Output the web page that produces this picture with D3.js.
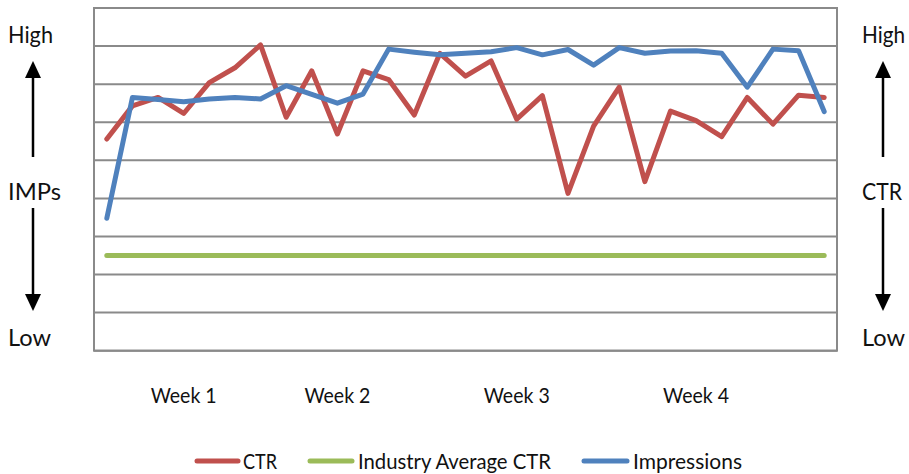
<!DOCTYPE html>
<html><head><meta charset="utf-8">
<script src="https://cdn.jsdelivr.net/npm/d3@7"></script>
<style>
html,body{margin:0;padding:0;background:#fff;}
svg{display:block;}
text{font-family:Lato,"Open Sans",sans-serif;fill:#111;}
</style></head>
<body><svg id="chart" width="909" height="474"></svg>
<script>
// ---- data ----
const categories = ["","","","Week 1","","","","","","Week 2","","","","","","","Week 3","","","","","","","Week 4","","","","",""];
const ctr = [5.56,6.43,6.65,6.23,7.04,7.43,8.03,6.13,7.35,5.69,7.35,7.12,6.19,7.81,7.21,7.61,6.08,6.70,4.13,5.90,6.92,4.44,6.29,6.04,5.62,6.65,5.95,6.71,6.65];
const industryAvg = [2.5,2.5,2.5,2.5,2.5,2.5,2.5,2.5,2.5,2.5,2.5,2.5,2.5,2.5,2.5,2.5,2.5,2.5,2.5,2.5,2.5,2.5,2.5,2.5,2.5,2.5,2.5,2.5,2.5];
const impressions = [3.48,6.65,6.60,6.54,6.61,6.65,6.61,6.96,6.73,6.50,6.74,7.92,7.84,7.77,7.81,7.85,7.96,7.77,7.91,7.50,7.96,7.81,7.87,7.88,7.81,6.92,7.92,7.88,6.28];
const yTicks = [0,1,2,3,4,5,6,7,8,9];
const seriesNames = ["CTR","Industry Average CTR","Impressions"];
const seriesColors = ["#C0504D","#9BBB59","#4F81BD"];

const svg = d3.select("#chart");
const pL = 94, pR = 837, pT = 8, pB = 350.7;

const x = d3.scaleBand().domain(d3.range(categories.length)).range([pL, pR]);
const y = d3.scaleLinear().domain([0, 9]).range([pB, pT]);
const cx = i => x(i) + x.bandwidth() / 2;

// gridlines
svg.append("g").selectAll("line").data(yTicks).join("line")
  .attr("x1", pL).attr("x2", pR)
  .attr("y1", d => y(d)).attr("y2", d => y(d))
  .attr("stroke", "#8a8a8a").attr("stroke-width", 2);
// plot border
svg.append("rect").attr("x", pL).attr("y", pT)
  .attr("width", pR - pL).attr("height", pB - pT)
  .attr("fill", "none").attr("stroke", "#8a8a8a").attr("stroke-width", 2);

// x axis labels
const xAxis = d3.axisBottom(x).tickSize(0).tickPadding(0).tickFormat(i => categories[i]);
const gx = svg.append("g").attr("transform", `translate(0,${pB})`).call(xAxis);
gx.select(".domain").remove();
gx.selectAll("text").attr("font-family", "Lato").attr("font-size", 22).attr("fill", "#111")
  .attr("dy", null).attr("y", 52)
  .filter(function(){ return this.textContent.length > 0; })
  .attr("textLength", 66).attr("lengthAdjust", "spacingAndGlyphs");

// lines
const line = d3.line().x((d, i) => cx(i)).y(d => y(d));
const allSeries = [ctr, industryAvg, impressions];
[1, 0, 2].forEach(k => {
  svg.append("path").datum(allSeries[k]).attr("d", line)
    .attr("fill", "none").attr("stroke", seriesColors[k]).attr("stroke-width", 5)
    .attr("stroke-linejoin", "round").attr("stroke-linecap", "round");
});

// side labels with arrows
function sideLabels(xText, xArrow, midLabel, midW, highW) {
  const g = svg.append("g");
  const t = (txt, yy, w) => g.append("text").attr("x", xText).attr("y", yy)
    .attr("font-size", 23).attr("textLength", w).attr("lengthAdjust", "spacingAndGlyphs").text(txt);
  t("High", 43, highW); t(midLabel, 200, midW); t("Low", 346, 43);
  g.append("line").attr("x1", xArrow).attr("x2", xArrow).attr("y1", 76).attr("y2", 157)
    .attr("stroke", "#000").attr("stroke-width", 2.5);
  g.append("path").attr("d", `M${xArrow},61 L${xArrow-8},78 L${xArrow+8},78 Z`).attr("fill", "#000");
  g.append("line").attr("x1", xArrow).attr("x2", xArrow).attr("y1", 208).attr("y2", 295)
    .attr("stroke", "#000").attr("stroke-width", 2.5);
  g.append("path").attr("d", `M${xArrow},311 L${xArrow-8},294 L${xArrow+8},294 Z`).attr("fill", "#000");
}
sideLabels(8, 33, "IMPs", 53, 45);
sideLabels(862, 883, "CTR", 40, 43);

// legend
const legendItems = [
  {x1: 197, x2: 238, tx: 243, w: 34},
  {x1: 310, x2: 352, tx: 358, w: 193},
  {x1: 584, x2: 627, tx: 633, w: 109}
];
const lg = svg.append("g");
legendItems.forEach((it, k) => {
  lg.append("line").attr("x1", it.x1).attr("x2", it.x2).attr("y1", 461).attr("y2", 461)
    .attr("stroke", seriesColors[k]).attr("stroke-width", 5).attr("stroke-linecap", "round");
  lg.append("text").attr("x", it.tx).attr("y", 469).attr("font-size", 22)
    .attr("textLength", it.w).attr("lengthAdjust", "spacingAndGlyphs").text(seriesNames[k]);
});
</script></body></html>
